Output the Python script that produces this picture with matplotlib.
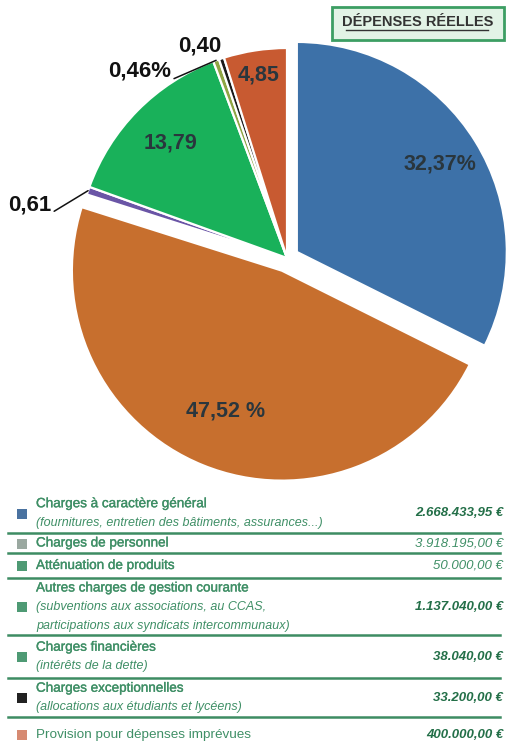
import numpy as np
import matplotlib
matplotlib.use("Agg")
import matplotlib.pyplot as plt
import matplotlib.patheffects as pe
from matplotlib.patches import Rectangle

plt.rcParams['font.family'] = ['Liberation Sans', 'DejaVu Sans']

# --- data -------------------------------------------------------------
percents = [32.37, 47.52, 0.61, 13.79, 0.46, 0.40, 4.85]
pie_labels = ["32,37%", "47,52 %", "0,61", "13,79", "0,46%", "0,40", "4,85"]
pie_colors = ['#3d71a8', '#c76f2e', '#6a55a6', '#19b15a', '#8fa544', '#1b1b1b', '#c85a31']

row_titles = ["Charges à caractère général", "Charges de personnel",
              "Atténuation de produits", "Autres charges de gestion courante",
              "Charges financières", "Charges exceptionnelles",
              "Provision pour dépenses imprévues"]
row_details = ["(fournitures, entretien des bâtiments, assurances...)", "", "",
               "(subventions aux associations, au CCAS,\nparticipations aux syndicats intercommunaux)",
               "(intérêts de la dette)", "(allocations aux étudiants et lycéens)", ""]
amounts = ["2.668.433,95 €", "3.918.195,00 €", "50.000,00 €", "1.137.040,00 €",
           "38.040,00 €", "33.200,00 €", "400.000,00 €"]
marker_colors = ['#4a72a0', '#9aa8a0', '#4e9a74', '#4e9a74', '#4e9a74', '#222222', '#d68a72']

W, H = 507, 748
fig = plt.figure(figsize=(W / 100, H / 100), dpi=100)

# --- pie --------------------------------------------------------------
R = 210.0          # pixels per unit radius
cx, cy = 287, 258  # pie centre in pixels
pie_h = 500
ax = fig.add_axes([0, 1 - pie_h / H, 1, pie_h / H])
explode = [0.055, 0.065, 0, 0, 0, 0, 0]
wedges, _ = ax.pie(percents, colors=pie_colors, startangle=90, counterclock=False,
                   explode=explode, wedgeprops=dict(edgecolor='white', linewidth=1.6))
ax.set_aspect('auto')
ax.set_xlim(-cx / R, (W - cx) / R)
ax.set_ylim(-(pie_h - cy) / R, cy / R)
ax.axis('off')

# label placement: inside labels use radius fraction, outside ones use offsets
inside_r = {0: 0.80, 1: 0.72, 3: 0.78, 6: 0.88}
outside_off = {2: (-42, -10), 4: (-55, -8), 5: (-16, 9)}
for i, w in enumerate(wedges):
    mid = np.deg2rad((w.theta1 + w.theta2) / 2)
    ox, oy = w.center
    if i in inside_r:
        r = inside_r[i]
        ax.text(ox + r * np.cos(mid), oy + r * np.sin(mid), pie_labels[i],
                ha='center', va='center', fontsize=15.5, fontweight='bold',
                color='#2a363d')
    else:
        px, py = ox + np.cos(mid), oy + np.sin(mid)
        dx, dy = outside_off[i]
        arrow = None
        if i != 5:
            arrow = dict(arrowstyle='-', color='#111111', lw=1.1,
                         shrinkA=0, shrinkB=0, relpos=(1.0, 0.1))
        ax.annotate(pie_labels[i], xy=(px, py), xytext=(dx, dy),
                    textcoords='offset points', ha='center', va='center',
                    fontsize=16, fontweight='bold', color='#111111',
                    arrowprops=arrow)

# --- overlay in pixel coordinates ------------------------------------
ov = fig.add_axes([0, 0, 1, 1])
ov.set_xlim(0, W)
ov.set_ylim(H, 0)
ov.axis('off')
ov.patch.set_alpha(0)

# title box
ov.add_patch(Rectangle((332, 7), 172, 33, facecolor='#e2f3e6',
                       edgecolor='#3c9e63', lw=2))
ov.text(418, 22, "DÉPENSES RÉELLES", ha='center', va='center', fontsize=10.5,
        fontweight='bold', color='#333333')
ov.plot([346, 488], [30, 30], color='#333333', lw=1)

# table
green = '#3f8f66'
thick = [pe.withStroke(linewidth=0.25, foreground=green)]
row_top = [493, 533, 553, 578, 635, 678, 717]
row_bot = [533, 553, 578, 635, 678, 717, 752]
line_gap = 18.5
for i in range(len(row_titles)):
    yc = (row_top[i] + row_bot[i]) / 2 + 0.5
    lines = [(row_titles[i], False)]
    if row_details[i]:
        for d in row_details[i].split('\n'):
            lines.append((d, True))
    n = len(lines)
    y0 = yc - (n - 1) * line_gap / 2
    last = i == len(row_titles) - 1
    for k, (txt, it) in enumerate(lines):
        ov.text(36, y0 + k * line_gap, txt, ha='left', va='center',
                fontsize=9.0 if it else 9.7, style='italic' if it else 'normal',
                color=green, path_effects=None if (it or last) else thick)
    bold = i not in (1, 2)
    ov.text(503, yc, amounts[i], ha='right', va='center', fontsize=9.5,
            style='italic', fontweight='bold' if bold else 'normal',
            color='#236f48' if bold else green)
    ov.add_patch(Rectangle((17, yc - 5), 10, 10, facecolor=marker_colors[i],
                           edgecolor='none'))
    if not last:
        ov.plot([8, 500], [row_bot[i], row_bot[i]], color='#3d8c63', lw=1.8)

fig.savefig('out.png', dpi=100)
